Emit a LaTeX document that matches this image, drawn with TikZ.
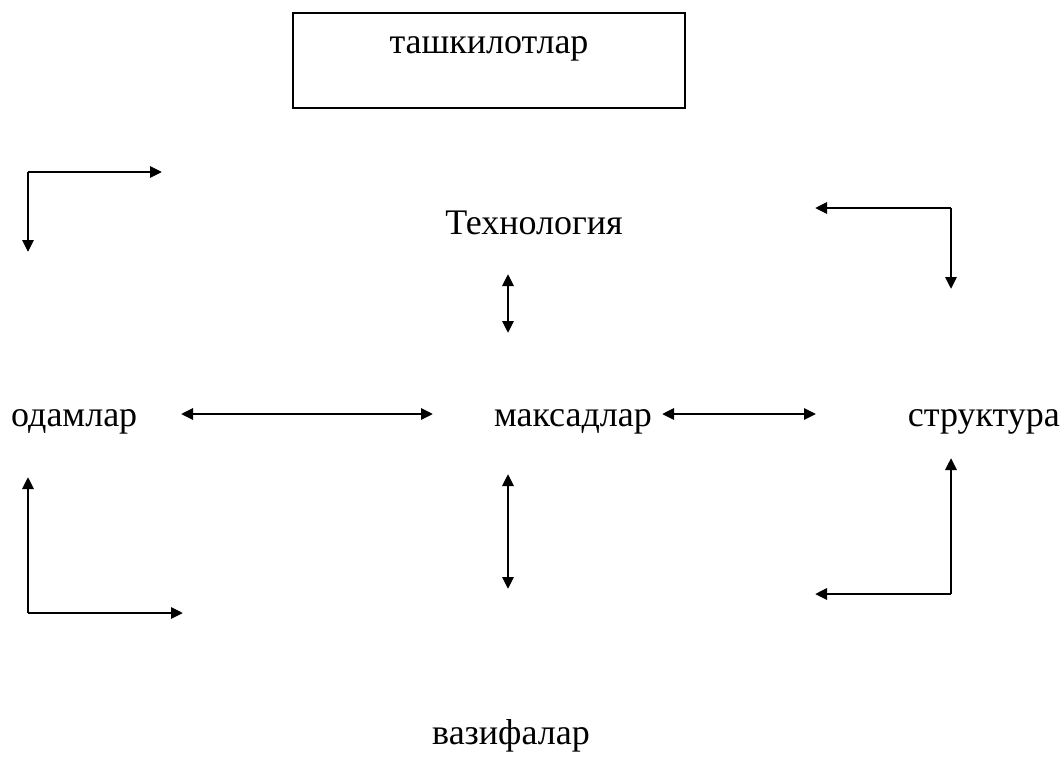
\documentclass[tikz,border=0pt]{standalone}
\usepackage{fontspec}
\setmainfont{Liberation Serif}
\usetikzlibrary{arrows.meta}
\begin{document}
\begin{tikzpicture}[x=1pt,y=-1pt,
  lbl/.style={inner sep=0pt,font=\fontsize{36}{40}\selectfont},
  tip/.tip={Triangle[length=12pt,width=11pt]},
  conn/.style={line width=2.8pt,-tip},
  biconn/.style={line width=2.8pt,tip-tip},
  frame/.style={draw,line width=2.8pt}]
\useasboundingbox (0,0) rectangle (1062,760);

% title box
\draw[frame] (293,13) rectangle (685,108);
\node[lbl,anchor=base] (org) at (489,54) {ташкилотлар};

% labels
\node[lbl,anchor=base] (tech) at (534,234) {Технология};
\node[lbl,anchor=base west] (people) at (11,426) {одамлар};
\node[lbl,anchor=base east] (goals) at (652,426) {максадлар};
\node[lbl,anchor=base east] (struct) at (1060,426) {структура};
\node[lbl,anchor=base] (tasks) at (511,744) {вазифалар};

% corner arrows, top left
\coordinate (tlc) at (28,172);
\coordinate (tlr) at (162,172);
\coordinate (tld) at (28,252);
\draw[conn] (tlc) -- (tlr);
\draw[conn] (tlc) -- (tld);

% corner arrows, top right
\coordinate (trc) at (951,208);
\coordinate (trl) at (815,208);
\coordinate (trd) at (951,289);
\draw[conn] (trc) -- (trl);
\draw[conn] (trc) -- (trd);

% corner arrows, bottom left
\coordinate (blc) at (28,613);
\coordinate (blu) at (28,477);
\coordinate (blr) at (183,613);
\draw[conn] (blc) -- (blu);
\draw[conn] (blc) -- (blr);

% corner arrows, bottom right
\coordinate (brc) at (951,594);
\coordinate (bru) at (951,458);
\coordinate (brl) at (815,594);
\draw[conn] (brc) -- (bru);
\draw[conn] (brc) -- (brl);

% arrows around the centre
\coordinate (hl1) at (181,414);
\coordinate (hl2) at (433,414);
\draw[biconn] (hl1) -- (hl2);
\coordinate (hr1) at (662,414);
\coordinate (hr2) at (816,414);
\draw[biconn] (hr1) -- (hr2);
\coordinate (vt1) at (508,274);
\coordinate (vt2) at (508,333);
\draw[biconn] (vt1) -- (vt2);
\coordinate (vb1) at (508,474);
\coordinate (vb2) at (508,589);
\draw[biconn] (vb1) -- (vb2);
\end{tikzpicture}
\end{document}
